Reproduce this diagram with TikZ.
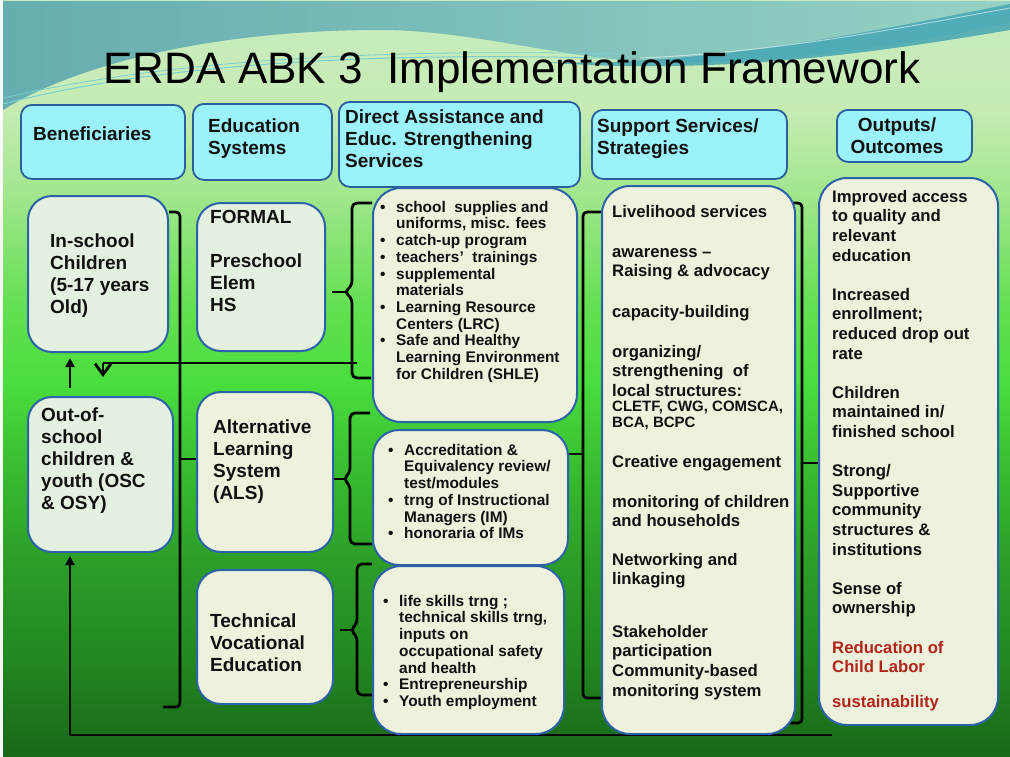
\documentclass[tikz,border=0pt]{standalone}
\usepackage{fontspec}
\setmainfont{Liberation Sans}
\usetikzlibrary{arrows.meta,calc}

% palette
\definecolor{hcyan}{HTML}{9CF2FA}
\definecolor{hblue}{HTML}{2A5F9E}
\definecolor{bblue}{HTML}{2B62A8}
\definecolor{mint}{HTML}{E4F1E0}
\definecolor{cream}{HTML}{EEF1DC}
\definecolor{ink}{HTML}{111111}
\definecolor{rust}{HTML}{B0241C}
\definecolor{tealA}{HTML}{66ADB0}
\definecolor{tealB}{HTML}{96D2C4}
\definecolor{tealBand}{HTML}{45A6B4}
\definecolor{tealLine}{HTML}{7ACFD0}
\definecolor{gA}{HTML}{C8ECC0}
\definecolor{gB}{HTML}{C6ECB4}
\definecolor{gC}{HTML}{9EE68A}
\definecolor{gD}{HTML}{66E054}
\definecolor{gE}{HTML}{4ADE3E}
\definecolor{gF}{HTML}{38BC30}
\definecolor{gG}{HTML}{2C9E28}
\definecolor{gH}{HTML}{238A22}
\definecolor{gI}{HTML}{196818}

\pgfdeclarelayer{bg}
\pgfdeclarelayer{wires}
\pgfsetlayers{bg,wires,main}

% text helpers
\newcommand\firstln{\rule{0pt}{20pt}}
\newcommand\bul{\makebox[16pt][l]{•}}
\newcommand\bind{\hspace*{16pt}}
\newcommand\fbig{\fontsize{19pt}{22pt}\selectfont\bfseries}
\newcommand\fda{\fontsize{15.4pt}{16.7pt}\selectfont\bfseries}
\newcommand\fsup{\fontsize{16.7pt}{19.6pt}\selectfont\bfseries}
\newcommand\fsmall{\fontsize{15pt}{16.5pt}\selectfont\bfseries}

\begin{document}
\begin{tikzpicture}[x=1pt,y=-1pt,
  hbox/.style={draw=hblue, line width=1.8pt, fill=hcyan, rounded corners=11pt,
    inner sep=0pt, anchor=north west},
  bbox/.style={draw=bblue, line width=2pt, fill=cream, rounded corners=24pt,
    inner sep=0pt, anchor=north west},
  tx/.style={anchor=north west, inner sep=0pt, align=left, text=ink},
  wire/.style={draw=black, line width=2.8pt, line join=round},
  uptip/.style={-{Triangle[length=9pt,width=9pt]}},
  vtip/.style={-{Straight Barb[length=11pt,width=16pt]}},
]
\useasboundingbox (0,0) rectangle (1010,756);

% ---------- backdrop ----------
\begin{pgfonlayer}{bg}
  \fill[white] (0,0) rectangle (1010,756);
  \shade[top color=gA, bottom color=gB] (3,0) rectangle (1010,110.5);
  \shade[top color=gB, bottom color=gC] (3,110) rectangle (1010,200.5);
  \shade[top color=gC, bottom color=gD] (3,200) rectangle (1010,300.5);
  \shade[top color=gD, bottom color=gE] (3,300) rectangle (1010,380.5);
  \shade[top color=gE, bottom color=gF] (3,380) rectangle (1010,470.5);
  \shade[top color=gF, bottom color=gG] (3,470) rectangle (1010,560.5);
  \shade[top color=gG, bottom color=gH] (3,560) rectangle (1010,650.5);
  \shade[top color=gH, bottom color=gI] (3,650) rectangle (1010,756);
  % teal sky with sweeping waves
  \shade[left color=tealA, right color=tealB]
    (3,1) -- (1010,1) -- (1010,22)
    .. controls (900,48) and (760,66) .. (650,62)
    .. controls (560,58) and (470,30) .. (380,30)
    .. controls (220,30) and (80,62) .. (3,110) -- cycle;
  \fill[tealBand, opacity=0.85]
    (540,62) .. controls (700,68) and (880,30) .. (1010,4)
    -- (1010,30) .. controls (880,52) and (720,76) .. (540,62) -- cycle;
  \draw[tealLine, line width=1pt]
    (3,104) .. controls (150,66) and (350,52) .. (600,58);
  \draw[tealLine, line width=0.8pt]
    (3,98) .. controls (160,62) and (360,48) .. (620,54);
  \draw[white, opacity=0.5, line width=1pt]
    (640,58) .. controls (780,52) and (900,28) .. (1010,8);
\end{pgfonlayer}

% ---------- title ----------
\node[font=\fontsize{44pt}{50pt}\selectfont, anchor=base, text=black] (title)
  at (512,83) {ERDA ABK 3\ \ Implementation Framework};

% ---------- column headers ----------
\node[hbox, minimum width=164pt, minimum height=74pt] (hben) at (20,104) {};
\node[hbox, minimum width=139pt, minimum height=76pt] (hedu) at (192,103) {};
\node[hbox, minimum width=241pt, minimum height=85pt] (hdas) at (338,101) {};
\node[hbox, minimum width=195pt, minimum height=69pt] (hsup) at (591,109) {};
\node[hbox, minimum width=135pt, minimum height=52pt] (hout) at (836,109) {};

\node[tx, font=\fbig] (tben) at (33,120) {\firstln Beneficiaries};
\node[tx, font=\fbig] (tedu) at (208,112) {\firstln Education\\Systems};
\node[tx, font=\fbig] (tdas) at (345,103)
  {\firstln Direct Assistance and\\Educ. Strengthening\\Services};
\node[tx, font=\fbig] (tsup) at (597,112) {\firstln Support Services/\\Strategies};
\node[tx, font=\fbig, anchor=north, align=center] (tout) at (897,111)
  {\firstln Outputs/\\Outcomes};

% ---------- body boxes ----------
\node[bbox, fill=mint, minimum width=140pt, minimum height=156pt] (ins) at (27,195) {};
\node[bbox, fill=mint, minimum width=145pt, minimum height=155pt] (osc) at (27,396) {};
\node[bbox, fill=mint, minimum width=128pt, minimum height=148pt] (formal) at (196,202) {};
\node[bbox, minimum width=136pt, minimum height=160pt] (als) at (196,391) {};
\node[bbox, minimum width=136pt, minimum height=134pt] (tv) at (196,569) {};
\node[bbox, rounded corners=28pt, minimum width=204pt, minimum height=234pt] (da1) at (372,187) {};
\node[bbox, rounded corners=26pt, minimum width=195pt, minimum height=135pt] (da2) at (372,429) {};
\node[bbox, rounded corners=28pt, minimum width=191pt, minimum height=168pt] (da3) at (372,565) {};
\node[bbox, rounded corners=28pt, minimum width=193pt, minimum height=548pt] (sup) at (601,185) {};
\node[bbox, rounded corners=28pt, minimum width=179pt, minimum height=547pt] (out) at (818,177) {};

% beneficiaries and education systems
\node[tx, font=\fbig] (tins) at (50,227) {\firstln In-school\\Children\\(5-17 years\\Old)};
\node[tx, font=\fbig] (tosc) at (41,401)
  {\firstln Out-of-\\school\\children \&\\youth (OSC\\\& OSY)};
\node[tx, font=\fbig] (tfor) at (210,203) {\firstln FORMAL\\[22pt]Preschool\\Elem\\HS};
\node[tx, font=\fbig] (tals) at (213,413) {\firstln Alternative\\Learning\\System\\(ALS)};
\node[tx, font=\fbig] (ttv) at (210,607) {\firstln Technical\\Vocational\\Education};

% direct assistance lists
\node[tx, font=\fda] (tda1) at (380,192)
  {\firstln\bul school\ \ supplies and\\
   \bind uniforms, misc. fees\\
   \bul catch-up program\\
   \bul teachers’\ \ trainings\\
   \bul supplemental\\
   \bind materials\\
   \bul Learning Resource\\
   \bind Centers (LRC)\\
   \bul Safe and Healthy\\
   \bind Learning Environment\\
   \bind for Children (SHLE)};
\node[tx, font=\fda] (tda2) at (388,435)
  {\firstln\bul Accreditation \&\\
   \bind Equivalency review/\\
   \bind test/modules\\
   \bul trng of Instructional\\
   \bind Managers (IM)\\
   \bul honoraria of IMs};
\node[tx, font=\fda] (tda3) at (383,586)
  {\firstln\bul life skills trng ;\\
   \bind technical skills trng,\\
   \bind inputs on\\
   \bind occupational safety\\
   \bind and health\\
   \bul Entrepreneurship\\
   \bul Youth employment};

% support services and strategies
\node[tx, font=\fsup] (s1) at (612,197) {\firstln Livelihood services};
\node[tx, font=\fsup] (s2) at (612,237) {\firstln awareness –\\Raising \& advocacy};
\node[tx, font=\fsup] (s3) at (612,297) {\firstln capacity-building};
\node[tx, font=\fsup] (s4) at (612,337)
  {\firstln organizing/\\strengthening\ \ of\\local structures:};
\node[tx, font=\fsmall] (s5) at (612,391) {\firstln CLETF, CWG, COMSCA,\\BCA, BCPC};
\node[tx, font=\fsup] (s6) at (612,447) {\firstln Creative engagement};
\node[tx, font=\fsup] (s7) at (612,487) {\firstln monitoring of children\\and households};
\node[tx, font=\fsup] (s8) at (612,545) {\firstln Networking and\\linkaging};
\node[tx, font=\fsup] (s9) at (612,617)
  {\firstln Stakeholder\\participation\\Community-based\\monitoring system};

% outputs and outcomes
\node[tx, font=\fsup] (tres) at (832,182)
  {\firstln Improved access\\to quality and\\relevant\\education\\[19.6pt]
   Increased\\enrollment;\\reduced drop out\\rate\\[19.6pt]
   Children\\maintained in/\\finished school\\[19.6pt]
   Strong/\\Supportive\\community\\structures \&\\institutions\\[19.6pt]
   Sense of\\ownership\\[19.6pt]
   \textcolor{rust}{Reducation of}\\\textcolor{rust}{Child Labor}\\[15pt]
   \textcolor{rust}{sustainability}};

% ---------- connectors ----------
\begin{pgfonlayer}{wires}
  % bracket gathering the beneficiaries towards the education systems
  \coordinate (lbEnd) at (163,707);
  \draw[wire, rounded corners=4pt] (ins.east |- 0,212) -- (180,212) -- (180,707) -- (lbEnd);
  \draw[wire] (180,459) -- (als.west |- 0,459);

  % brace: formal system -> first assistance package
  \coordinate (fTop) at (372,203);
  \coordinate (fBot) at (371,378);
  \draw[wire, rounded corners=5pt] (fTop) -- (352,203) -- (352,286) -- (344,292)
    -- (352,298) -- (352,378) -- (fBot);
  \draw[wire] ($(formal.east |- 0,292)+(6,0)$) -- (345,292);

  % brace: ALS -> second assistance package
  \coordinate (aTop) at (370,413);
  \draw[wire, rounded corners=5pt] (aTop) -- (350,413) -- (350,473) -- (343,479)
    -- (350,485) -- (350,544) -- (da2.west |- 0,544);
  \draw[wire] (als.east |- 0,479) -- (344,479);

  % brace: technical-vocational -> third assistance package
  \draw[wire, rounded corners=5pt] (da3.west |- 0,564) -- (357,564) -- (357,624)
    -- (350,630) -- (357,636) -- (357,695) -- (da3.west |- 0,695);
  \draw[wire] ($(tv.east |- 0,630)+(6,0)$) -- (351,630);

  % feedback from the first package back to the beneficiaries
  \coordinate (fbStart) at (357,363);
  \coordinate (fbEnd) at (103,377);
  \draw[wire] (fbStart) -- (103,363);
  \draw[wire, vtip] (103,363) -- (fbEnd);

  % out-of-school -> in-school
  \draw[wire, uptip] ($(osc.north west)+(43,-8)$) -- ($(ins.south west)+(43,5)$);

  % return loop along the bottom into the out-of-school box
  \coordinate (loopStart) at (832,735);
  \draw[wire, uptip, shorten >=3pt] (loopStart) -- (70,735) -- (osc.south -| 70,0);

  % brace: assistance packages -> support services
  \draw[wire, rounded corners=4pt] (sup.west |- 0,212) -- (583,212) -- (583,698)
    -- (sup.west |- 0,698);
  \draw[wire] (da2.east |- 0,454) -- (583,454);

  % brace: support services -> outputs
  \draw[wire, rounded corners=4pt] (787,203) -- (802,203) -- (802,723) -- (787,723);
  \draw[wire] (802,463) -- (out.west |- 0,463);
\end{pgfonlayer}
\end{tikzpicture}
\end{document}
